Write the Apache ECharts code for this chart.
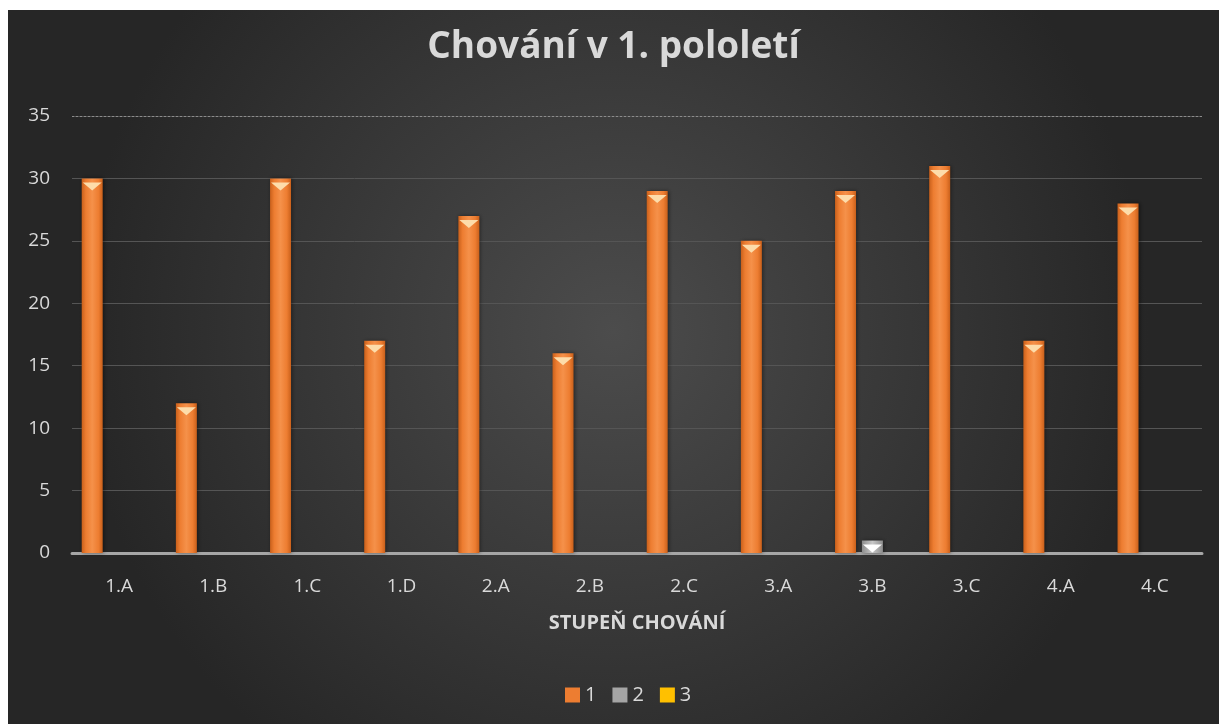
<!DOCTYPE html>
<html>
<head>
<meta charset="utf-8">
<script src="https://cdn.jsdelivr.net/npm/echarts@6/dist/echarts.min.js"></script>
<style>
html,body{margin:0;padding:0;background:#ffffff;width:1219px;height:724px;overflow:hidden;}
#chart{position:absolute;left:8px;top:10px;width:1211px;height:714px;}
</style>
</head>
<body>
<div id="chart"></div>
<script>
const categories = ['1.A','1.B','1.C','1.D','2.A','2.B','2.C','3.A','3.B','3.C','4.A','4.C'];
const seriesNames = ['1','2','3'];
const values1 = [30,12,30,17,27,16,29,25,29,31,17,28];
const values2 = [0,0,0,0,0,0,0,0,1,0,0,0];
const values3 = [0,0,0,0,0,0,0,0,0,0,0,0];
const yTicks = [0,5,10,15,20,25,30,35];
const titleText = 'Chování v 1. pololetí';
const xAxisTitle = 'STUPEŇ CHOVÁNÍ';

const allValues = [values1, values2, values3];
const palette = [
  {edge:'#c9601b', mid:'#f5914a', base:'#ED7D31', cap:'#fddcaa'},
  {edge:'#8c8c8c', mid:'#c8c8c8', base:'#A5A5A5', cap:'#ffffff'},
  {edge:'#d9a300', mid:'#ffd24d', base:'#FFC000', cap:'#fff3b0'}
];
function grad(p){
  return new echarts.graphic.LinearGradient(0,0,1,0,[
    {offset:0,color:p.edge},{offset:0.2,color:p.base},{offset:0.5,color:p.mid},{offset:0.8,color:p.base},{offset:1,color:p.edge}
  ]);
}
const BAR_W = 21, BAR_GAP = '28%', CAT_GAP = '20%';
const series = [];
allValues.forEach((vals,i)=>{
  series.push({
    name: seriesNames[i], type:'bar', data: vals,
    barWidth: BAR_W, barGap: BAR_GAP, barCategoryGap: CAT_GAP,
    itemStyle:{color: grad(palette[i]), shadowColor:'rgba(0,0,0,0.45)', shadowBlur:4, shadowOffsetX:1},
    markLine: i===0 ? {silent:true, symbol:'none', label:{show:false},
      lineStyle:{type:[2,2], color:'#8c8c8c', width:1}, data:[{yAxis: yTicks[yTicks.length-1]}]} : undefined
  });
});
allValues.forEach((vals,i)=>{
  series.push({
    name: seriesNames[i], type:'pictorialBar', data: vals.map(v=> v>0 ? v : null),
    barWidth: BAR_W, barGap: BAR_GAP, barCategoryGap: CAT_GAP,
    symbol:'path://M0,0L20,0L10,8Z', symbolSize:[BAR_W-2,8], symbolPosition:'end', symbolOffset:[0,'50%'],
    itemStyle:{color: palette[i].cap}, z:5, silent:true
  });
});

const chart = echarts.init(document.getElementById('chart'), null, {renderer:'canvas'});
chart.setOption({
  animation:false,
  backgroundColor: new echarts.graphic.RadialGradient(0.5,0.45,0.75,[
    {offset:0,color:'#4c4c4c'},{offset:1,color:'#262626'}
  ]),
  title:{text:titleText, left:'center', top:14,
    textStyle:{color:'#d9d9d9', fontSize:37, fontWeight:'bold', fontFamily:'Open Sans'}},
  legend:{data:seriesNames.map(n=>({name:n, icon:'rect', itemStyle:{color:palette[seriesNames.indexOf(n)].base}})),
    bottom:14, left:552,
    itemWidth:15, itemHeight:15, itemGap:16,
    textStyle:{color:'#d9d9d9', fontSize:20, fontFamily:'Open Sans'}},
  grid:{left:64, right:17, top:106, bottom:171, containLabel:false},
  xAxis:{type:'category', data:categories,
    axisLine:{show:true, lineStyle:{color:'#a6a6a6', width:3, type:[3,1]}},
    axisTick:{show:false},
    axisLabel:{color:'#d9d9d9', fontSize:19, fontFamily:'Open Sans', margin:24},
    name:xAxisTitle, nameLocation:'middle', nameGap:60,
    nameTextStyle:{color:'#d9d9d9', fontSize:20, fontWeight:'bold', fontFamily:'Open Sans'}},
  yAxis:{type:'value', min:yTicks[0], max:yTicks[yTicks.length-1], interval:5,
    axisLine:{show:false}, axisTick:{show:false},
    axisLabel:{color:'#d9d9d9', fontSize:19, fontFamily:'Open Sans', margin:22},
    splitLine:{lineStyle:{color:'#555555', width:1}}},
  series: series
});
</script>
</body>
</html>
